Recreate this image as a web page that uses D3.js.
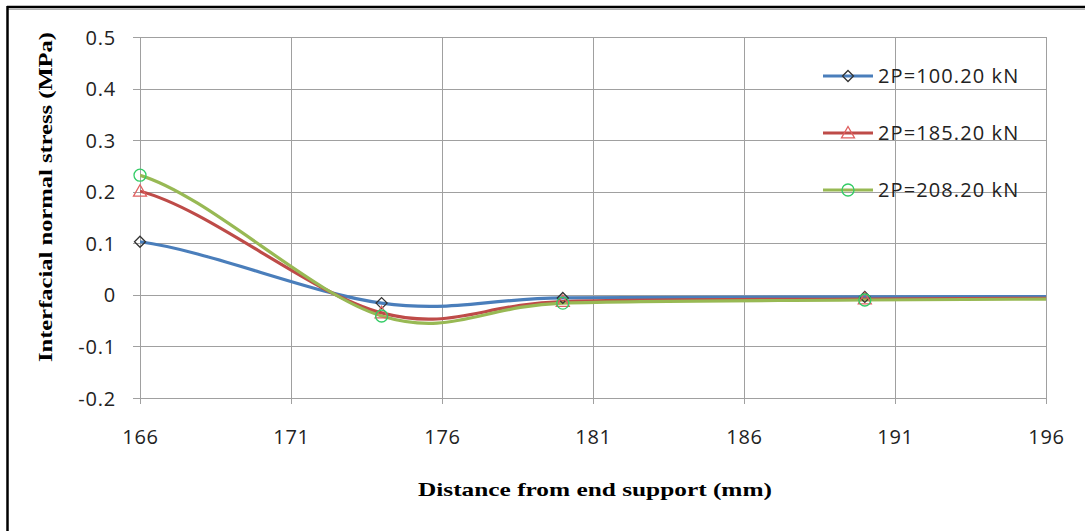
<!DOCTYPE html>
<html>
<head>
<meta charset="utf-8">
<script src="https://cdn.jsdelivr.net/npm/d3@7"></script>
<style>
  html, body { margin: 0; padding: 0; background: #fff; }
  svg { display: block; }
</style>
</head>
<body>
<svg id="chart" width="1085" height="531"></svg>
<script>
// Distance from end support (mm)
const distances = [166, 174, 180, 190, 200];

// Interfacial normal stress (MPa) for each load level
const stress100 = [0.103, -0.016, -0.006, -0.004, -0.003];
const stress185 = [0.201, -0.035, -0.013, -0.008, -0.006];
const stress208 = [0.232, -0.041, -0.016, -0.010, -0.007];

const seriesNames = ["2P=100.20 kN", "2P=185.20 kN", "2P=208.20 kN"];

const xTicks = [166, 171, 176, 181, 186, 191, 196];
const yTicks = [-0.2, -0.1, 0, 0.1, 0.2, 0.3, 0.4, 0.5];

const series = [
  { name: seriesNames[0], values: stress100, color: "#4A7EBB", marker: "diamond", markerColor: "#333333" },
  { name: seriesNames[1], values: stress185, color: "#BE4B48", marker: "triangle", markerColor: "#E06060" },
  { name: seriesNames[2], values: stress208, color: "#98B954", marker: "circle", markerColor: "#33CC66" }
];

const svg = d3.select("#chart");
const plot = { left: 140, right: 1046, top: 37, bottom: 398 };

const x = d3.scaleLinear().domain([166, 196]).range([plot.left, plot.right]);
const y = d3.scaleLinear().domain([-0.2, 0.5]).range([plot.bottom, plot.top]);

// Outer frame (top and left edges)
svg.append("line").attr("x1", 7).attr("x2", 1085).attr("y1", 9.5).attr("y2", 9.5)
  .attr("stroke", "#b0b0b0").attr("stroke-width", 1);
svg.append("line").attr("x1", 7).attr("x2", 1085).attr("y1", 7).attr("y2", 7)
  .attr("stroke", "#000").attr("stroke-width", 2.5);
svg.append("line").attr("x1", 7.5).attr("x2", 7.5).attr("y1", 6).attr("y2", 531)
  .attr("stroke", "#000").attr("stroke-width", 2.5);

const tickFont = "'Open Sans', Lato, sans-serif";

// Horizontal gridlines with left tick marks
svg.append("g")
  .attr("transform", `translate(${plot.left},0)`)
  .call(d3.axisLeft(y).tickValues(yTicks).tickSize(-(plot.right - plot.left)).tickSizeOuter(0)
    .tickFormat(d => String(+d.toFixed(1))))
  .call(g => g.select(".domain").attr("stroke", "#a0a0a0"))
  .call(g => g.selectAll(".tick line").attr("stroke", "#a0a0a0").attr("x1", -7).attr("shape-rendering", "crispEdges"))
  .call(g => g.selectAll(".tick text")
    .attr("x", -24).attr("dy", "0.35em")
    .attr("fill", "#222").attr("font-family", tickFont).attr("font-size", 20).attr("letter-spacing", 0.8));

// Vertical gridlines and x tick labels
svg.append("g")
  .attr("transform", `translate(0,${plot.bottom})`)
  .call(d3.axisBottom(x).tickValues(xTicks).tickSize(-(plot.bottom - plot.top)).tickSizeOuter(0).tickFormat(d3.format("d")))
  .call(g => g.select(".domain").attr("stroke", "#a0a0a0"))
  .call(g => g.selectAll(".tick line").attr("stroke", "#a0a0a0").attr("y1", 6).attr("shape-rendering", "crispEdges"))
  .call(g => g.selectAll(".tick text")
    .attr("y", 39).attr("dy", "0.35em")
    .attr("fill", "#222").attr("font-family", tickFont).attr("font-size", 20).attr("letter-spacing", 0.8));

// Clip the smoothed lines to the plot area
svg.append("defs").append("clipPath").attr("id", "plotClip")
  .append("rect").attr("x", plot.left).attr("y", plot.top)
  .attr("width", plot.right - plot.left).attr("height", plot.bottom - plot.top);

// Smoothed line: Catmull-Rom style Bezier segments; each end point reuses
// the tangent of its neighbouring interior point.
function smoothPath(pts) {
  const n = pts.length;
  const tan = pts.map((p, i) => {
    if (i === 0 || i === n - 1) return null;
    return [(pts[i + 1][0] - pts[i - 1][0]) / 6, (pts[i + 1][1] - pts[i - 1][1]) / 6];
  });
  tan[0] = tan[1];
  tan[n - 1] = tan[n - 2];
  const p = d3.path();
  p.moveTo(pts[0][0], pts[0][1]);
  for (let i = 0; i < n - 1; i++) {
    const a = pts[i], b = pts[i + 1];
    p.bezierCurveTo(a[0] + tan[i][0], a[1] + tan[i][1],
                    b[0] - tan[i + 1][0], b[1] - tan[i + 1][1],
                    b[0], b[1]);
  }
  return p.toString();
}

const linesG = svg.append("g").attr("clip-path", "url(#plotClip)");
series.forEach(s => {
  const pts = distances.map((d, i) => [x(d), y(s.values[i])]);
  linesG.append("path")
    .attr("d", smoothPath(pts))
    .attr("fill", "none")
    .attr("stroke", s.color)
    .attr("stroke-width", 3.2)
    .attr("stroke-linejoin", "round");
});

function drawMarker(g, type, cx, cy, color) {
  if (type === "diamond") {
    const r = 5.5;
    g.append("path")
      .attr("d", `M${cx},${cy - r}L${cx + r},${cy}L${cx},${cy + r}L${cx - r},${cy}Z`)
      .attr("fill", "none").attr("stroke", color).attr("stroke-width", 1.3);
  } else if (type === "triangle") {
    const r = 6.5;
    g.append("path")
      .attr("d", `M${cx},${cy - r}L${cx + r},${cy + r * 0.75}L${cx - r},${cy + r * 0.75}Z`)
      .attr("fill", "none").attr("stroke", color).attr("stroke-width", 1.3);
  } else {
    g.append("circle").attr("cx", cx).attr("cy", cy).attr("r", 6)
      .attr("fill", "none").attr("stroke", color).attr("stroke-width", 1.3);
  }
}

const markersG = svg.append("g");
series.forEach(s => {
  distances.forEach((d, i) => {
    if (d >= 166 && d <= 196) drawMarker(markersG, s.marker, x(d), y(s.values[i]), s.markerColor);
  });
});

// Legend
const legendY = [76, 133, 190];
series.forEach((s, i) => {
  const g = svg.append("g");
  g.append("line").attr("x1", 823).attr("x2", 873).attr("y1", legendY[i]).attr("y2", legendY[i])
    .attr("stroke", s.color).attr("stroke-width", 3.2);
  drawMarker(g, s.marker, 848, legendY[i], s.markerColor);
  g.append("text").attr("x", 878).attr("y", legendY[i]).attr("dy", "0.35em")
    .attr("fill", "#222").attr("font-family", tickFont).attr("font-size", 20).attr("letter-spacing", 1.1)
    .text(s.name);
});

// Axis titles
svg.append("text")
  .attr("x", 595).attr("y", 496)
  .attr("text-anchor", "middle")
  .attr("font-family", "'Liberation Serif', 'Times New Roman', serif")
  .attr("font-weight", "bold").attr("font-size", 19)
  .attr("textLength", 354).attr("lengthAdjust", "spacingAndGlyphs")
  .text("Distance from end support (mm)");

svg.append("text")
  .attr("transform", "translate(52,197) rotate(-90)")
  .attr("text-anchor", "middle")
  .attr("font-family", "'Liberation Serif', 'Times New Roman', serif")
  .attr("font-weight", "bold").attr("font-size", 19)
  .attr("textLength", 330).attr("lengthAdjust", "spacingAndGlyphs")
  .text("Interfacial normal stress (MPa)");
</script>
</body>
</html>
